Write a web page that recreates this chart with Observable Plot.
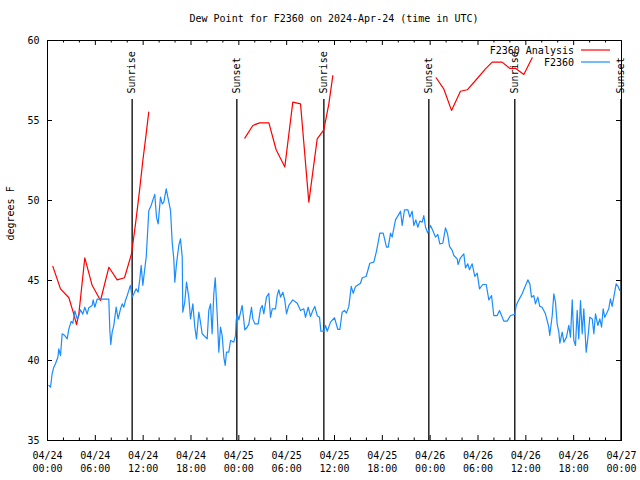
<!DOCTYPE html>
<html>
<head>
<meta charset="utf-8">
<script src="https://cdn.jsdelivr.net/npm/d3@7"></script>
<script src="https://cdn.jsdelivr.net/npm/@observablehq/plot@0.6"></script>
<style>
  body { margin: 0; background: #fff; }
  #wrap { position: relative; width: 640px; height: 480px; font-family: "DejaVu Sans Mono", monospace; color: #000; }
  #title { position: absolute; left: 0; top: 13px; width: 668px; text-align: center; font-size: 10px; line-height: 12px; }
  #chart { position: absolute; left: 0; top: 30px; }
  #legend { position: absolute; left: 0; top: 0; pointer-events: none; }
</style>
</head>
<body>
<div id="wrap">
  <div id="title">Dew Point for F2360 on 2024-Apr-24 (time in UTC)</div>
  <div id="chart"></div>
  <svg id="legend" width="640" height="480"></svg>
</div>
<script>
// ---- data (hours after 2024-04-24 00:00 UTC, dew point °F) ----
const startDate = "2024-04-24T00:00Z";
const endDate = "2024-04-27T00:00Z";

const f2360 = [
  [0.17,38.44],[0.38,38.33],[0.58,39.17],[0.79,39.58],[1.0,39.8],[1.3,40.2],[1.42,40.73],[1.63,40.3],
  [1.84,41.67],[2.17,41.56],[2.47,41.35],[2.68,41.98],[2.97,42.44],[3.18,42.33],[3.43,43.1],[3.72,42.6],
  [3.93,42.8],[4.14,43.17],[4.43,42.9],[4.68,43.33],[4.97,42.9],[5.18,43.3],[5.6,43.44],[5.73,43.79],
  [5.93,43.33],[6.23,43.83],[7.69,43.83],[7.82,41.88],[7.94,41.0],[8.11,41.77],[8.32,42.2],[8.61,43.33],
  [8.86,42.6],[9.16,43.23],[9.37,43.54],[9.57,43.33],[9.78,43.75],[10.0,44.06],[10.2,44.38],[10.4,44.69],
  [10.62,43.96],[10.83,44.17],[11.12,44.48],[11.37,44.27],[11.58,45.1],[11.75,45.94],[11.96,44.7],[12.17,45.6],
  [12.38,46.46],[12.5,47.5],[12.71,49.38],[13.0,49.69],[13.26,50.1],[13.46,50.38],[13.67,48.96],[13.88,48.54],
  [14.17,50.21],[14.39,49.79],[14.59,49.9],[14.89,50.73],[15.14,50.1],[15.43,49.38],[15.64,47.4],[15.84,46.35],
  [15.97,44.9],[16.18,46.04],[16.47,47.19],[16.68,47.6],[16.9,46.46],[16.97,43.02],[17.22,43.65],[17.44,44.9],
  [17.72,43.96],[17.94,42.6],[18.23,43.54],[18.48,42.08],[18.69,41.35],[18.98,43.02],[19.19,42.4],[19.4,41.67],
  [20.03,41.35],[20.23,43.13],[20.45,43.54],[20.65,41.67],[20.86,44.17],[21.04,45.17],[21.28,42.92],[21.49,40.52],
  [21.7,42.08],[21.91,41.56],[22.12,40.2],[22.29,39.69],[22.45,40.52],[22.74,40.52],[22.96,41.25],[23.37,41.15],
  [23.58,41.56],[23.67,42.5],[23.79,42.92],[24.0,42.54],[24.42,43.44],[24.75,41.92],[25.05,42.08],[25.26,42.29],
  [25.59,43.33],[25.76,42.6],[26.01,42.29],[26.43,42.29],[26.72,43.23],[26.93,43.44],[27.13,42.92],[27.47,43.96],
  [27.76,44.2],[27.97,42.7],[28.19,43.23],[28.6,43.23],[28.81,44.06],[29.02,44.42],[29.23,43.96],[29.52,44.27],
  [29.77,43.75],[29.98,42.92],[30.27,43.44],[30.77,43.79],[31.32,43.58],[31.74,43.13],[32.15,43.23],[32.36,42.7],
  [32.7,43.33],[32.99,42.75],[33.28,43.13],[33.53,43.38],[33.83,42.8],[34.12,42.7],[34.29,41.83],[34.66,41.83],
  [34.87,42.19],[35.09,41.83],[35.5,42.4],[36.0,42.67],[36.42,41.94],[36.67,41.94],[36.96,43.02],[37.25,43.13],
  [37.5,42.96],[37.8,43.38],[38.1,44.63],[38.35,44.2],[38.64,44.63],[39.26,44.83],[39.48,45.17],[39.97,45.25],
  [40.43,46.08],[40.93,46.15],[41.27,46.83],[41.69,47.96],[42.11,47.96],[42.52,47.08],[42.74,47.08],[43.03,47.96],
  [43.23,47.71],[43.65,48.79],[44.07,49.13],[44.28,49.33],[44.49,48.44],[44.78,49.42],[45.2,49.42],[45.45,48.96],
  [45.74,49.33],[45.95,48.44],[46.2,48.79],[46.45,48.33],[46.7,48.71],[47.0,48.65],[47.2,49.06],[47.42,48.33],
  [47.7,47.96],[48.04,48.44],[48.33,48.13],[48.67,47.71],[48.96,47.88],[49.21,47.29],[49.59,47.33],[49.92,48.29],
  [50.18,47.92],[50.43,47.13],[50.76,46.88],[50.97,46.56],[51.39,46.35],[51.5,46.0],[51.8,46.42],[52.22,46.67],
  [52.43,45.79],[52.72,46.04],[52.93,45.67],[53.27,46.04],[53.6,45.25],[53.9,45.46],[54.19,44.48],[54.6,44.75],
  [55.03,44.75],[55.36,43.79],[55.7,44.06],[55.98,42.81],[56.4,42.81],[56.7,43.13],[56.95,42.81],[57.24,42.46],
  [57.66,42.46],[58.08,42.81],[58.62,42.88],[58.79,43.44],[59.12,43.79],[59.54,44.17],[59.87,44.58],[60.25,45.04],
  [60.5,44.79],[60.71,43.96],[61.0,44.06],[61.21,43.54],[61.5,43.96],[61.75,43.38],[62.04,43.33],[62.46,42.92],
  [62.88,42.08],[63.0,41.56],[63.31,42.81],[63.51,44.17],[63.72,43.65],[63.93,42.29],[64.14,41.77],[64.27,41.08],
  [64.56,41.77],[64.77,41.15],[65.1,41.46],[65.39,42.19],[65.6,41.46],[65.82,43.79],[66.02,41.25],[66.23,40.94],
  [66.44,43.13],[66.64,41.35],[66.86,43.75],[67.07,41.67],[67.27,43.23],[67.57,40.52],[67.77,41.35],[68.03,42.71],
  [68.33,42.6],[68.53,41.67],[68.74,42.92],[69.03,42.19],[69.28,42.6],[69.5,42.08],[69.7,43.23],[69.9,42.7],
  [70.12,42.92],[70.4,43.23],[70.61,43.85],[70.82,43.38],[71.11,44.17],[71.33,44.79],[71.57,44.63],[71.78,44.38]
];

const analysisDay1 = [
  [0.67,45.88],[1.63,44.48],[2.68,43.92],[3.3,42.9],[3.64,42.25],[3.93,42.9],[4.68,46.42],[5.6,44.7],
  [6.65,43.75],[7.7,45.83],[8.74,45.04],[9.66,45.17],[10.54,46.67],[11.04,48.54],[11.54,50.6],[11.96,52.5],
  [12.3,53.85],[12.7,55.52]
];
const analysisDay2 = [
  [24.75,53.9],[25.75,54.69],[26.6,54.85],[27.77,54.85],[28.68,53.17],[29.77,52.1],[30.77,56.15],[31.74,56.04],
  [32.78,49.9],[33.83,53.85],[34.66,54.42],[35.29,56.04],[35.79,57.8]
];
const analysisDay3 = [
  [48.75,57.67],[49.7,56.98],[50.68,55.63],[51.8,56.83],[52.65,56.92],[53.69,57.5],[54.94,58.23],[55.78,58.65],
  [57.03,58.65],[58.0,58.25],[58.7,58.27],[59.75,57.88],[60.8,58.92]
];

const sunEvents = [
  {time: "2024-04-24T10:37Z", label: "Sunrise"},
  {time: "2024-04-24T23:45Z", label: "Sunset"},
  {time: "2024-04-25T10:40Z", label: "Sunrise"},
  {time: "2024-04-25T23:50Z", label: "Sunset"},
  {time: "2024-04-26T10:37Z", label: "Sunrise"},
  {time: "2024-04-26T23:56Z", label: "Sunset"}
];

const yTicks = [35, 40, 45, 50, 55, 60];
const seriesNames = ["F2360 Analysis", "F2360"];
const seriesColors = ["#ff0000", "#1a8cff"];

// ---- build ----
const t0 = new Date(startDate).getTime();
const toDate = h => new Date(t0 + h * 3600e3);
const obs = f2360.map(([h, v]) => ({t: toDate(h), v}));
const ana = [analysisDay1, analysisDay2, analysisDay3].flatMap((seg, i) =>
  seg.map(([h, v]) => ({t: toDate(h), v, seg: i})));
const events = sunEvents.map(d => ({...d, t: new Date(d.time)}));

const majorTicks = d3.utcHour.every(6).range(new Date(startDate), new Date(new Date(endDate).getTime() + 1));
const minorTicks = d3.utcHour.every(2).range(new Date(startDate), new Date(new Date(endDate).getTime() + 1))
  .filter(d => d.getUTCHours() % 6 !== 0);
const fmt = d3.utcFormat("%m/%d\n%H:%M");

const W = 640, H = 450, mL = 47, mR = 19, mT = 10, mB = 40;
const fw = W - mL - mR, fh = H - mT - mB;

const chart = Plot.plot({
  width: W, height: H,
  marginLeft: mL, marginRight: mR, marginTop: mT, marginBottom: mB,
  style: {fontFamily: "'DejaVu Sans Mono', monospace", fontSize: "10px", background: "#fff", color: "#000"},
  x: {type: "utc", domain: [new Date(startDate), new Date(endDate)]},
  y: {domain: [35, 60]},
  marks: [
    Plot.ruleX(events, {x: "t", y1: 56.31, y2: 35, stroke: "#000", strokeWidth: 1.3}),
    Plot.text(events, {x: "t", y: 56.69, text: "label", rotate: -90, textAnchor: "start", lineAnchor: "middle", fill: "#000"}),
    Plot.line(ana, {x: "t", y: "v", z: "seg", stroke: seriesColors[0], strokeWidth: 1.2}),
    Plot.line(obs, {x: "t", y: "v", stroke: seriesColors[1], strokeWidth: 1.2}),
    // inward ticks
    Plot.tickX(majorTicks, {x: d => d, insetTop: fh - 5, stroke: "#000"}),
    Plot.tickX(majorTicks, {x: d => d, insetBottom: fh - 5, stroke: "#000"}),
    Plot.tickX(minorTicks, {x: d => d, insetTop: fh - 2.5, stroke: "#000"}),
    Plot.tickX(minorTicks, {x: d => d, insetBottom: fh - 2.5, stroke: "#000"}),
    Plot.tickY(yTicks, {y: d => d, insetRight: fw - 5, stroke: "#000"}),
    Plot.tickY(yTicks, {y: d => d, insetLeft: fw - 5, stroke: "#000"}),
    Plot.axisX({ticks: majorTicks, tickSize: 0, tickPadding: 9, tickFormat: fmt, lineHeight: 1.33, label: null, fontSize: 10}),
    Plot.axisY({ticks: yTicks, tickSize: 0, tickPadding: 8, label: null, fontSize: 10}),
    Plot.text(["degrees F"], {frameAnchor: "left", text: d => d, rotate: -90, dx: -37, fill: "#000"}),
    Plot.frame({stroke: "#000", strokeWidth: 1})
  ]
});
document.getElementById("chart").appendChild(chart);

// ---- legend ----
const lg = d3.select("#legend");
seriesNames.forEach((name, i) => {
  const y = 50 + i * 12;
  lg.append("text").attr("x", 574).attr("y", y).attr("dy", "0.35em")
    .attr("text-anchor", "end").attr("font-size", 10)
    .attr("font-family", "'DejaVu Sans Mono', monospace").text(name);
  lg.append("line").attr("x1", 581).attr("x2", 610).attr("y1", y).attr("y2", y)
    .attr("stroke", seriesColors[i]).attr("stroke-width", 1.2);
});
</script>
</body>
</html>
